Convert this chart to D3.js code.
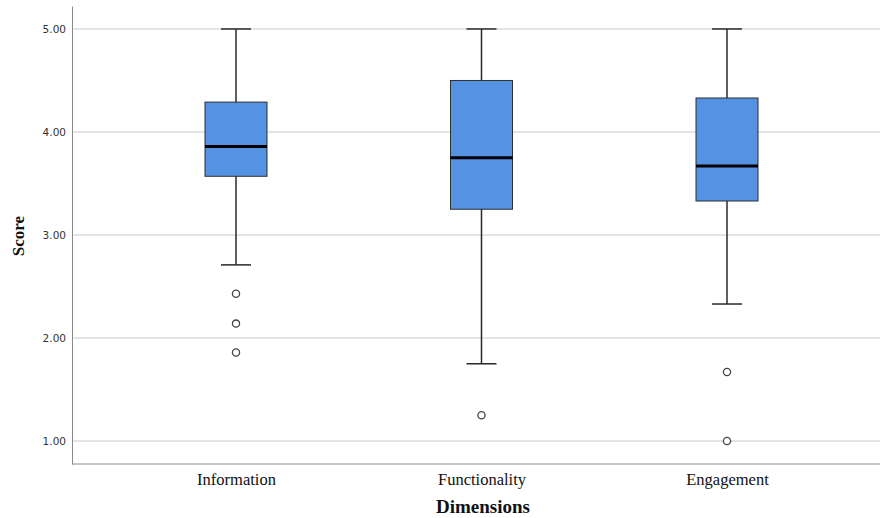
<!DOCTYPE html>
<html>
<head>
<meta charset="utf-8">
<script src="https://cdn.jsdelivr.net/npm/d3@7"></script>
<style>
  body { margin: 0; background: #fff; }
  svg { display: block; }
</style>
</head>
<body>
<div id="chart"></div>
<script>
// Data
const categories = ["Information", "Functionality", "Engagement"]
const whiskerLow = [2.71, 1.75, 2.33]
const q1 = [3.57, 3.25, 3.33]
const median = [3.86, 3.75, 3.67]
const q3 = [4.29, 4.50, 4.33]
const whiskerHigh = [5.00, 5.00, 5.00]
const outliers = [[2.43, 2.14, 1.86], [1.25], [1.67, 1.00]]
const yTicks = [1, 2, 3, 4, 5]

const dimensions = {
  width: 880,
  height: 518,
  left: 72,
  right: 880,
  top: 6,
  bottom: 464,
}

const svg = d3.select("#chart")
  .append("svg")
  .attr("width", dimensions.width)
  .attr("height", dimensions.height)

// Scales
const yScale = d3.scaleLinear()
  .domain([0.777, 5.223])
  .range([dimensions.bottom, dimensions.top])

const xScale = d3.scalePoint()
  .domain(categories)
  .range([dimensions.left, 891])
  .padding(0.668)

// Grid lines
svg.append("g")
  .selectAll("line")
  .data(yTicks)
  .join("line")
    .attr("x1", dimensions.left)
    .attr("x2", dimensions.right)
    .attr("y1", d => yScale(d))
    .attr("y2", d => yScale(d))
    .attr("stroke", "#c9c9c9")
    .attr("stroke-width", 1)

// y axis
const yAxis = svg.append("g")
  .attr("transform", `translate(${dimensions.left},0)`)
  .call(d3.axisLeft(yScale)
    .tickValues(yTicks)
    .tickFormat(d3.format(".2f"))
    .tickSize(0)
    .tickPadding(6))
yAxis.select(".domain").attr("stroke", "#8a8a8a")
yAxis.selectAll("text")
  .attr("font-family", "DejaVu Sans, sans-serif")
  .attr("font-size", 10.5)
  .attr("fill", "#333")

// x axis
const xAxis = svg.append("g")
  .attr("transform", `translate(0,${dimensions.bottom})`)
  .call(d3.axisBottom(xScale).tickSize(0).tickPadding(9))
xAxis.select(".domain")
  .attr("stroke", "#8a8a8a")
  .attr("d", `M${dimensions.left},0H${dimensions.right}`)
xAxis.selectAll("text")
  .attr("font-family", "Liberation Serif, Times New Roman, serif")
  .attr("font-size", 16.5)
  .attr("fill", "#111")

// Axis titles
svg.append("text")
  .attr("x", 483)
  .attr("y", 513)
  .attr("text-anchor", "middle")
  .attr("font-family", "Liberation Serif, Times New Roman, serif")
  .attr("font-weight", "bold")
  .attr("font-size", 19)
  .attr("fill", "#111")
  .text("Dimensions")

svg.append("text")
  .attr("transform", `translate(24,236) rotate(-90)`)
  .attr("text-anchor", "middle")
  .attr("font-family", "Liberation Serif, Times New Roman, serif")
  .attr("font-weight", "bold")
  .attr("font-size", 17)
  .attr("fill", "#111")
  .text("Score")

// Boxes
const boxWidth = 62
const capWidth = 30
const boxes = svg.append("g")
  .selectAll("g")
  .data(categories)
  .join("g")

boxes.append("line")
  .attr("x1", d => xScale(d))
  .attr("x2", d => xScale(d))
  .attr("y1", (d, i) => yScale(whiskerHigh[i]))
  .attr("y2", (d, i) => yScale(whiskerLow[i]))
  .attr("stroke", "#2a2a2a")
  .attr("stroke-width", 1.5)

boxes.selectAll(".cap")
  .data((d, i) => [whiskerLow[i], whiskerHigh[i]].map(v => ({ x: xScale(d), v })))
  .join("line")
    .attr("class", "cap")
    .attr("x1", d => d.x - capWidth / 2)
    .attr("x2", d => d.x + capWidth / 2)
    .attr("y1", d => yScale(d.v))
    .attr("y2", d => yScale(d.v))
    .attr("stroke", "#2a2a2a")
    .attr("stroke-width", 1.5)

boxes.append("rect")
  .attr("x", d => xScale(d) - boxWidth / 2)
  .attr("width", boxWidth)
  .attr("y", (d, i) => yScale(q3[i]))
  .attr("height", (d, i) => yScale(q1[i]) - yScale(q3[i]))
  .attr("fill", "#5592e2")
  .attr("stroke", "#2e2e2e")
  .attr("stroke-width", 1)

boxes.append("line")
  .attr("x1", d => xScale(d) - boxWidth / 2)
  .attr("x2", d => xScale(d) + boxWidth / 2)
  .attr("y1", (d, i) => yScale(median[i]))
  .attr("y2", (d, i) => yScale(median[i]))
  .attr("stroke", "#000")
  .attr("stroke-width", 3)

boxes.selectAll("circle")
  .data((d, i) => outliers[i].map(v => ({ x: xScale(d), v })))
  .join("circle")
    .attr("cx", d => d.x)
    .attr("cy", d => yScale(d.v))
    .attr("r", 3.6)
    .attr("fill", "#fff")
    .attr("stroke", "#444")
    .attr("stroke-width", 1.3)
</script>
</body>
</html>
